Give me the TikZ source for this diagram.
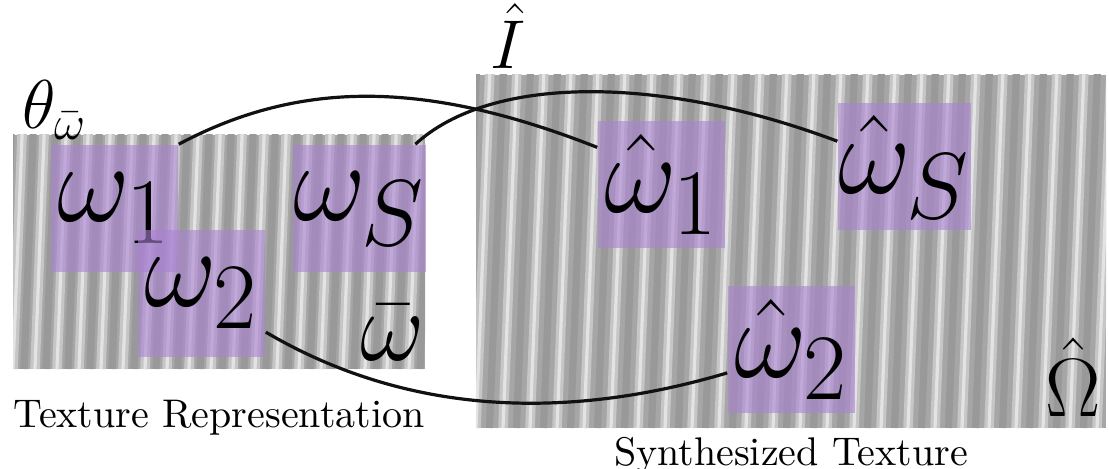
\documentclass[tikz,border=0pt]{standalone}
\usetikzlibrary{positioning,calc}
\definecolor{cPatch}{RGB}{170,130,210}
\definecolor{cInk}{HTML}{111111}
\newcommand{\plbl}[1]{\scalebox{1.13}{\Huge$#1$}}
\tikzset{
  tex/.style={draw=none, fill=gray!70, inner sep=0pt, path picture={
      \foreach \k in {-2,...,60}
        \draw[gray!80, line width=1.8pt] ([xshift=\k*#1*0.25pt+0.5*#1*0.25pt]path picture bounding box.south west) -- ++(14,-360);
      \foreach \k in {-2,...,60}
        \draw[gray!45, line width=2.4pt] ([xshift=\k*#1*0.25pt]path picture bounding box.south west) -- ++(14,-360);
      \foreach \k in {-2,...,60}
        \draw[gray!22, line width=0.8pt] ([xshift=\k*#1*0.25pt]path picture bounding box.south west) -- ++(14,-360);
  }},
  patch/.style={fill=cPatch, fill opacity=0.6, text opacity=1, draw=none, minimum size=31.75pt, inner sep=0pt},
  lbl/.style={inner sep=0pt},
  capt/.style={inner sep=0pt, font=\normalsize},
  link/.style={line width=0.8pt, draw=cInk},
}

\begin{document}
\begin{tikzpicture}[x=0.25pt, y=-0.25pt]
\useasboundingbox (0,0) rectangle (1109,469);
% textures
\node[tex=22, minimum width=103pt, minimum height=58.5pt] (ltex) at (219,252) {};
\node[tex=27, minimum width=157.5pt, minimum height=88.25pt] (rtex) at (791,251.5) {};
% patches
\node[patch] (w1) at (114.5,208.5) {\plbl{\omega_1}};
\node[patch] (w2) at (201.5,293.5) {\plbl{\omega_2}};
\node[patch] (wS) at (359.5,208.5) {\plbl{\omega_S}};
\node[patch] (hw1) at (661.5,184.5) {\plbl{\hat{\omega}_1}};
\node[patch] (hwS) at (904.5,167) {\plbl{\hat{\omega}_S}};
\node[patch] (hw2) at (791.5,349.5) {\plbl{\hat{\omega}_2}};
% labels
\node[lbl, font=\LARGE] (theta) at (55,110) {$\theta_{\bar{\omega}}$};
\node[lbl, font=\Huge] (wbar) at (393,333) {$\bar{\omega}$};
\node[lbl, font=\LARGE] (Ihat) at (508,36) {$\hat{I}$};
\node[lbl, font=\huge] (Ohat) at (1073,377) {$\hat{\Omega}$};
\node[capt, below=7.5pt of ltex] (lcap) {Texture Representation};
\node[capt, below=1.8pt of rtex] (rcap) {Synthesized Texture};
% links
\draw[link] (w1.north east) .. controls +(122,-65) and +(-170,-67) .. (hw1.150);
\draw[link] (wS.49) .. controls +(75,-69) and +(-178,-67) .. (hwS.159);
\draw[link] (w2.-31) .. controls +(175,103) and +(-108,32) .. (hw2.200);
\end{tikzpicture}
\end{document}
